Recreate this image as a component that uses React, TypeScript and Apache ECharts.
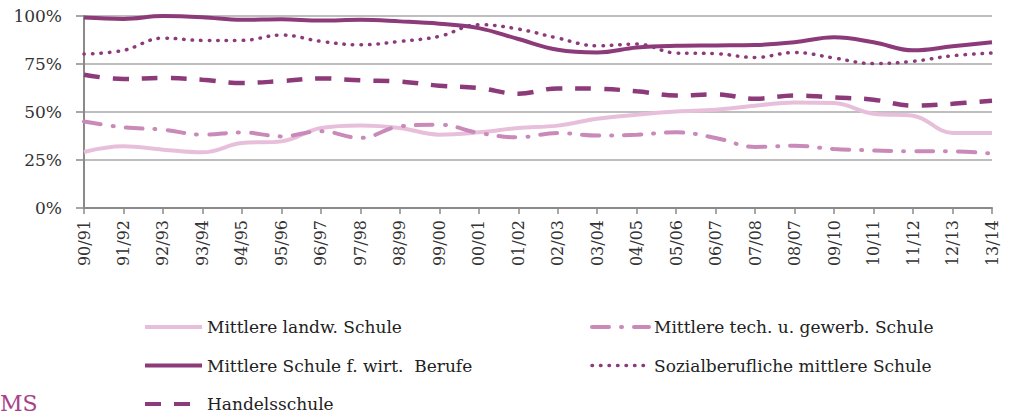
import React, { useEffect, useRef } from "react";
import * as echarts from "echarts";

const categories = ["90/91","91/92","92/93","93/94","94/95","95/96","96/97","97/98","98/99","99/00","00/01","01/02","02/03","03/04","04/05","05/06","06/07","07/08","08/07","09/10","10/11","11/12","12/13","13/14"];
const yTicks = [0, 25, 50, 75, 100];

const landw = [29.2,32.1,30.4,29.0,33.8,34.7,41.7,43.0,41.7,38.2,39.4,41.7,42.9,46.5,48.6,50.3,51.2,53.3,55.0,54.7,49.1,48.1,39.1,39.1];
const tech = [45.1,42.0,40.8,38.2,39.4,37.3,40.0,36.5,42.5,43.4,39.1,36.8,39.1,37.7,38.2,39.4,36.5,31.8,32.4,30.7,30.0,29.5,29.5,28.3];
const wirt = [99.2,98.5,100,99.4,98.0,98.3,97.6,98.0,97.2,96.0,93.7,88.0,82.4,81.0,83.6,84.5,84.7,84.9,86.3,88.9,86.3,82.1,84.2,86.3];
const sozial = [80.2,82.1,88.5,87.3,87.3,90.1,86.8,85.0,86.8,89.4,95.5,93.2,88.5,84.5,85.4,80.7,80.4,78.4,81.0,78.1,75.2,76.4,79.3,80.7];
const handel = [69.4,67.2,67.7,66.8,65.1,66.1,67.5,66.5,65.9,63.7,62.5,59.5,62.3,62.1,60.8,58.6,59.2,56.9,58.6,57.6,56.4,53.3,54.3,55.9];

const names = {
  landw: "Mittlere landw. Schule",
  tech: "Mittlere tech. u. gewerb. Schule",
  wirt: "Mittlere Schule f. wirt.  Berufe",
  sozial: "Sozialberufliche mittlere Schule",
  handel: "Handelsschule",
};

const DARK = "#8c3a7a";
const LIGHT = "#e8bfda";
const MID = "#c98ab9";
const FONT = "DejaVu Serif";

export default function App() {
  const ref = useRef<HTMLDivElement>(null);
  useEffect(() => {
    if (!ref.current) return;
    const chart = echarts.init(ref.current, undefined, { renderer: "svg" });
    const mk = (name: string, data: number[], color: string, type: any, width: number, cap: any = "butt") => ({
      name,
      type: "line",
      data,
      smooth: 0.4,
      showSymbol: false,
      xAxisIndex: 0,
      itemStyle: { color },
      lineStyle: { color, width, type, cap },
    });
    const legendBase = {
      orient: "vertical",
      top: 317,
      padding: 0,
      itemWidth: 57,
      itemHeight: 14,
      itemGap: 18.5,
      itemStyle: { opacity: 0, color: "transparent", borderWidth: 0 },
      lineStyle: { width: 4 },
      textStyle: { fontFamily: FONT, fontSize: 17, color: "#222", lineHeight: 20 },
    };
    chart.setOption({
      animation: false,
      backgroundColor: "#ffffff",
      grid: { left: 84, right: 27, top: 16, bottom: 210, containLabel: false },
      xAxis: [
        {
          type: "category",
          data: categories,
          boundaryGap: false,
          axisLine: { show: true, onZero: false, lineStyle: { color: "#8a8a8a", width: 2 } },
          axisTick: { show: false },
          axisLabel: {
            rotate: 90,
            margin: 12,
            color: "#333",
            fontFamily: FONT,
            fontSize: 16,
            interval: 0,
          },
          splitLine: { show: false },
        },
        {
          type: "value",
          position: "bottom",
          min: -1,
          max: 45,
          interval: 2,
          axisLine: { show: false, onZero: false },
          axisTick: { show: true, length: 6, lineStyle: { color: "#8a8a8a", width: 1.5 } },
          axisLabel: { show: false },
          splitLine: { show: false },
        },
      ],
      yAxis: {
        type: "value",
        min: yTicks[0],
        max: yTicks[yTicks.length - 1],
        interval: 25,
        axisLine: { show: true, onZero: false, lineStyle: { color: "#8a8a8a", width: 2 } },
        axisTick: { show: true, length: 8, lineStyle: { color: "#8a8a8a", width: 1.5 } },
        axisLabel: {
          formatter: "{value}%",
          margin: 22,
          color: "#333",
          fontFamily: FONT,
          fontSize: 17,
        },
        splitLine: { show: true, lineStyle: { color: "#a8a8a8", width: 1.5 } },
      },
      legend: [
        { ...legendBase, left: 143, data: [names.landw, names.wirt, names.handel] },
        {
          ...legendBase,
          left: 590,
          data: [names.tech, { name: names.sozial, lineStyle: { width: 3.5 } }],
        },
      ],
      graphic: [
        {
          type: "text",
          left: 0,
          top: 392,
          style: { text: "MS", fill: "#a8418a", font: `22px "${FONT}"` },
        },
      ],
      series: [
        mk(names.landw, landw, LIGHT, "solid", 4),
        mk(names.tech, tech, MID, [17, 12, 1, 12], 4, "round"),
        mk(names.wirt, wirt, DARK, "solid", 4),
        mk(names.sozial, sozial, DARK, [0.5, 8], 3.5, "round"),
        mk(names.handel, handel, DARK, [16, 13], 4.5),
      ],
    });
    return () => chart.dispose();
  }, []);
  return <div ref={ref} style={{ width: 1019, height: 418, position: "absolute", left: 0, top: 0 }} />;
}
